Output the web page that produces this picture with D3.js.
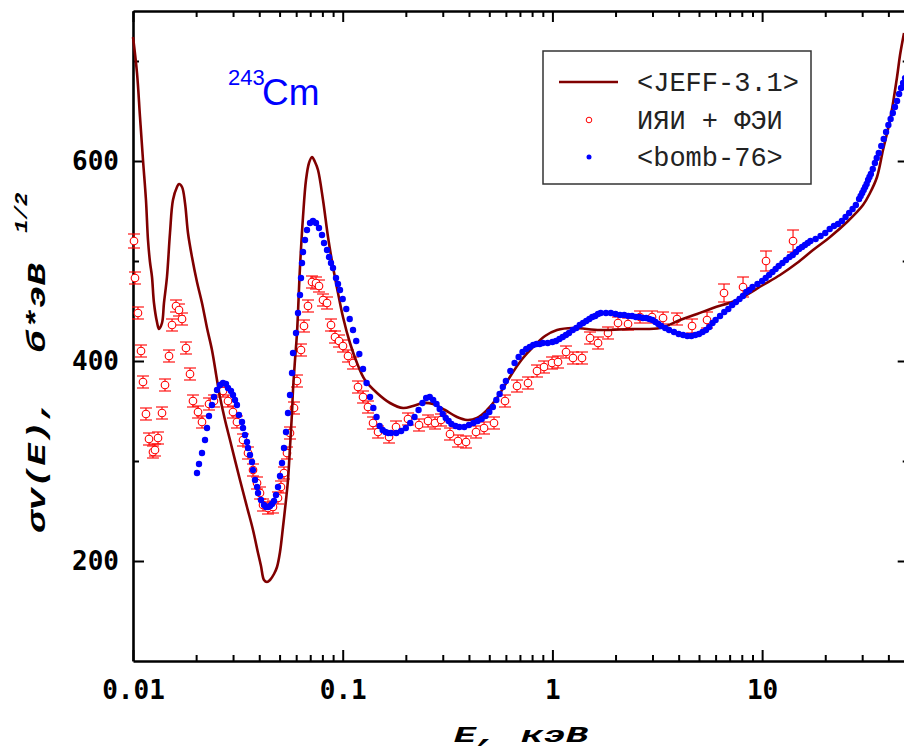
<!DOCTYPE html>
<html>
<head>
<meta charset="utf-8">
<script src="https://cdn.jsdelivr.net/npm/d3@7"></script>
<style>
  body { margin: 0; background: #fff; }
  svg { display: block; }
</style>
</head>
<body>
<svg id="chart" width="904" height="749"></svg>
<script>
// ---- Evaluated cross section (JEFF-3.1), energy in keV ----
const jeffEnergy = [0.0100,0.01045,0.01080,0.01116,0.01153,0.01179,0.01205,0.01232,0.01259,0.01301,
  0.01330,0.01375,0.01405,0.01452,0.01501,0.01551,0.01621,0.01657,0.01713,0.01770,
  0.01829,0.01911,0.02019,0.02133,0.02254,0.02380,0.02515,0.02599,0.02746,0.02901,
  0.03237,0.03496,0.03735,0.03946,0.04077,0.04214,0.04355,0.04501,0.04703,0.04861,
  0.05023,0.05191,0.05365,0.05484,0.05606,0.05730,0.05794,0.05923,0.06054,0.06257,
  0.06466,0.06683,0.06907,0.07138,0.07377,0.07624,0.08055,0.08510,0.08990,0.09497,
  0.1003,0.1083,0.1170,0.1277,0.1458,0.1681,0.1940,0.2164,0.2415,0.2695,
  0.3075,0.3509,0.3916,0.4369,0.4876,0.5441,0.5942,0.6488,0.7240,0.8080,
  0.9220,1.0518,1.2535,1.6866,2.3446,3.2601,4.0595,4.8938,5.8325,7.5914,
  10.099,12.174,14.674,17.490,21.082,25.402,30.272,32.693,35.309,37.710,
  40.731,43.991,45.465,47.508];
const jeffSigma = [724,688,644,601,561,521,499,484,458,439,
  432,438,458,484,528,561,574,577,574,558,
  528,504,479,458,433,411,381,364,341,321,
  281,254,231,208,195,181,179,181,187,194,
  209,234,261,281,314,348,371,401,428,494,
  544,581,598,604,599,591,561,524,494,468,
  444,418,398,381,368,358,353,355,358,357,
  351,344,341,343,351,363,376,389,403,414,
  425,431,433,431,432,433,441,447,453,461,
  476,486,498,511,524,539,556,568,584,611,
  641,684,706,728];

// ---- Measurements (ИЯИ + ФЭИ) with uncertainties ----
const expEnergy = [0.01011,0.01022,0.01056,0.01092,0.01116,0.01153,0.01192,0.01245,0.01273,0.01316,
  0.01375,0.01421,0.01485,0.01535,0.01604,0.01657,0.01713,0.01789,0.01870,0.01932,
  0.02042,0.02133,0.02304,0.02433,0.02686,0.02838,0.02998,0.03131,0.03346,0.03535,
  0.03735,0.03903,0.04033,0.04169,0.04403,0.04651,0.04914,0.05079,0.05248,0.05424,
  0.05606,0.05858,0.06054,0.06326,0.06537,0.06831,0.07138,0.07459,0.07708,0.08055,
  0.08417,0.08795,0.09190,0.09602,0.1003,0.1060,0.1120,0.1183,0.1250,0.1320,
  0.1395,0.1474,0.1663,0.1796,0.2048,0.2311,0.2552,0.2755,0.2943,0.3248,
  0.3547,0.3873,0.4321,0.4720,0.5266,0.5942,0.6779,0.7648,0.8445,0.9120,
  0.9956,1.0634,1.1614,1.2535,1.3839,1.5112,1.6503,1.8413,2.0551,2.2937,
  2.6166,2.9853,3.3692,3.9281,4.6326,5.4614,6.5811,8.1088,10.437,14.042];
const expSigma = [520,483,448,410,379,347,322,309,311,323,
  348,376,405,436,455,451,442,413,387,360,
  349,339,357,360,370,360,349,339,321,308,
  291,278,268,256,253,254,263,274,288,308,
  328,353,380,411,435,455,479,478,475,461,
  458,436,424,420,415,405,398,374,364,354,
  338,329,324,334,342,336,340,338,341,327,
  320,319,329,333,338,360,375,378,390,394,
  398,399,409,403,403,423,418,428,438,437,
  444,444,443,442,435,441,468,474,500,520];
const expError = [7,6,6,6,6,6,6,6,6,6,
  6,6,6,6,6,6,6,6,6,6,
  6,6,6,6,6,6,6,6,6,6,
  6,6,6,6,6,6,6,6,6,6,
  6,6,6,6,6,6,6,6,6,6,
  6,6,6,6,6,6,6,6,6,6,
  6,6,6,6,6,6,6,6,6,6,
  6,6,6,6,6,6,6,6,6,6,
  6,6,6,6,6,6,6,6,6,6,
  6,6,6,6,7,8,9,10,10,11];

// ---- Calculated cross section (bomb-76) ----
const bombEnergy = [0.02019,0.02064,0.02133,0.02205,0.02254,0.02304,0.02380,0.02433,0.02515,0.02599,
  0.02686,0.02776,0.02838,0.02933,0.02998,0.03065,0.03131,0.03201,0.03310,0.03346,
  0.03420,0.03496,0.03535,0.03614,0.03694,0.03735,0.03818,0.03903,0.03946,0.04077,
  0.04214,0.04307,0.04403,0.04501,0.04600,0.04703,0.04807,0.04914,0.05023,0.05135,
  0.05248,0.05365,0.05484,0.05606,0.05730,0.05794,0.05988,0.06121,0.06257,0.06326,
  0.06396,0.06466,0.06609,0.06756,0.06983,0.07215,0.07459,0.07708,0.07967,0.08144,
  0.08417,0.08604,0.08795,0.08990,0.09291,0.09497,0.09708,
  0.100,0.104,0.108,0.112,0.116,0.120,0.125,0.130,0.135,0.140,
  0.145,0.150,0.155,0.160,0.165,0.170,0.180,0.190,0.200,0.210,
  0.220,0.230,0.240,0.250,0.260,0.270,0.280,0.290,0.300,0.310,
  0.320,0.330,0.345,0.360,0.380,0.400,0.420,0.440,0.460,0.480,
  0.500,0.520,0.540,0.560,0.580,0.600,0.630,0.660,0.690,0.720,
  0.750,0.780,0.810,0.840,0.870,0.900,0.950,
  1.00,1.04,1.08,1.12,1.16,1.20,1.25,1.30,1.35,1.40,
  1.45,1.50,1.55,1.60,1.65,1.70,1.80,1.90,2.00,2.10,
  2.20,2.30,2.40,2.50,2.60,2.70,2.80,2.90,3.00,3.10,
  3.20,3.30,3.45,3.60,3.80,4.00,4.20,4.40,4.60,4.80,
  5.00,5.20,5.40,5.60,5.80,6.00,6.30,6.60,6.90,7.20,
  7.50,7.80,8.10,8.40,8.70,9.00,9.50,
  10.0,10.4,10.8,11.2,11.6,12.0,12.5,13.0,13.5,14.0,
  14.5,15.0,15.5,16.0,16.5,17.0,18.0,19.0,20.0,21.0,
  22.0,23.0,24.0,25.0,26.0,27.0,28.0,29.0,29.5,30.0,
  30.5,31.0,31.5,32.0,32.5,33.0,33.7,34.5,35.2,36.0,
  37.0,38.0,39.0,40.0,41.0,42.0,43.0,44.0,45.0,46.0,
  47.0,48.0];
const bombSigma = [288,297,308,321,333,345,356,364,371,376,
  378,377,373,370,366,361,356,346,339,333,
  326,319,313,306,299,291,281,274,268,261,
  256,254,254,255,257,260,266,274,285,298,
  313,329,348,366,388,408,428,448,466,483,
  498,509,521,531,538,540,538,533,526,518,
  511,504,498,493,483,477,471,
  462,452,442,431,420,407,392,378,364,353,
  344,335,331,329,328,328,328,330,333,338,
  344,351,358,363,364,361,357,352,347,343,
  340,337,335,334,334,336,338,340,342,345,
  349,354,361,367,374,380,390,398,404,409,
  412,414,416,417,417,418,418,
  419,420,422,424,426,428,431,433,436,438,
  440,442,444,445,447,448,448,448,447,446,
  446,445,445,444,444,443,443,442,441,439,
  437,435,433,431,429,427,426,425,425,426,
  427,429,431,434,438,441,445,449,452,456,
  459,462,465,469,471,474,477,
  480,483,486,489,492,495,498,501,504,506,
  509,512,514,516,518,520,522,525,528,532,
  535,537,540,544,548,552,556,562,565,568,
  571,574,577,581,584,587,592,598,603,608,
  615,622,629,636,642,648,654,660,667,673,
  678,683];

// ---- Axis ticks and labels ----
const xMajorTicks = [0.01, 0.1, 1, 10];
const xTickLabels = ["0.01", "0.1", "1", "10"];
const xMinorTicks = [0.02,0.03,0.04,0.05,0.06,0.07,0.08,0.09,
  0.2,0.3,0.4,0.5,0.6,0.7,0.8,0.9,
  2,3,4,5,6,7,8,9,
  20,30,40];
const yMajorTicks = [200, 400, 600];
const yMinorTicks = [300, 500, 700];

const legendLabels = ["<JEFF-3.1>", "ИЯИ + ФЭИ", "<bomb-76>"];

const COLOR_JEFF = "#800000";
const COLOR_EXP = "#ff0000";
const COLOR_BOMB = "#0000ff";

const svg = d3.select("#chart");

const x = d3.scaleLog().domain([0.01, 50]).range([133, 908.7]);
const y = d3.scaleLinear().domain([100, 750]).range([661, 11]);

const X0 = x.range()[0], X1 = x.range()[1];
const Y0 = y.range()[0], Y1 = y.range()[1];

// ---- Axes (ticks point inward on all four sides) ----
function styleAxis(g, width) {
  g.select(".domain").attr("stroke", "#000").attr("stroke-width", width);
  g.selectAll(".tick line").attr("stroke", "#000").attr("stroke-width", 2);
}
function minorStyle(g) {
  g.select(".domain").remove();
  g.selectAll(".tick line").attr("stroke", "#000").attr("stroke-width", 2);
}

const tickFont = "'DejaVu Sans Mono', monospace";

const gBottom = svg.append("g").attr("transform", `translate(0,${Y0})`)
  .call(d3.axisBottom(x).tickValues(xMajorTicks)
    .tickFormat((d, i) => xTickLabels[i])
    .tickSizeInner(-11).tickSizeOuter(0).tickPadding(20));
styleAxis(gBottom, 2.6);
gBottom.selectAll(".tick text")
  .attr("font-family", tickFont).attr("font-weight", "bold")
  .attr("font-size", 26).attr("fill", "#000");
svg.append("g").attr("transform", `translate(0,${Y0})`)
  .call(d3.axisBottom(x).tickValues(xMinorTicks).tickFormat("")
    .tickSizeInner(-6).tickSizeOuter(0))
  .call(minorStyle);

const gTop = svg.append("g").attr("transform", `translate(0,${Y1})`)
  .call(d3.axisTop(x).tickValues(xMajorTicks).tickFormat("")
    .tickSizeInner(-11).tickSizeOuter(0));
styleAxis(gTop, 2.6);
svg.append("g").attr("transform", `translate(0,${Y1})`)
  .call(d3.axisTop(x).tickValues(xMinorTicks).tickFormat("")
    .tickSizeInner(-6).tickSizeOuter(0))
  .call(minorStyle);

const gLeft = svg.append("g").attr("transform", `translate(${X0},0)`)
  .call(d3.axisLeft(y).tickValues(yMajorTicks)
    .tickSizeInner(-11).tickSizeOuter(0).tickPadding(14));
styleAxis(gLeft, 2.6);
gLeft.selectAll(".tick text")
  .attr("font-family", tickFont).attr("font-weight", "bold")
  .attr("font-size", 26).attr("fill", "#000");
svg.append("g").attr("transform", `translate(${X0},0)`)
  .call(d3.axisLeft(y).tickValues(yMinorTicks).tickFormat("")
    .tickSizeInner(-6).tickSizeOuter(0))
  .call(minorStyle);

const gRight = svg.append("g").attr("transform", `translate(${X1},0)`)
  .call(d3.axisRight(y).tickValues(yMajorTicks).tickFormat("")
    .tickSizeInner(-11).tickSizeOuter(0));
styleAxis(gRight, 2.6);
svg.append("g").attr("transform", `translate(${X1},0)`)
  .call(d3.axisRight(y).tickValues(yMinorTicks).tickFormat("")
    .tickSizeInner(-6).tickSizeOuter(0))
  .call(minorStyle);

// ---- Measurements: error bars + open circles ----
const expData = expEnergy.map((e, i) => ({ e, s: expSigma[i], err: expError[i] }));
const gExp = svg.append("g");
const bars = gExp.selectAll("g.bar").data(expData).join("g").attr("class", "bar")
  .attr("stroke", COLOR_EXP).attr("stroke-width", 1.1);
bars.append("line")
  .attr("x1", d => x(d.e)).attr("x2", d => x(d.e))
  .attr("y1", d => y(d.s + d.err)).attr("y2", d => y(d.s - d.err));
bars.append("line")
  .attr("x1", d => x(d.e) - 6).attr("x2", d => x(d.e) + 6)
  .attr("y1", d => y(d.s + d.err)).attr("y2", d => y(d.s + d.err));
bars.append("line")
  .attr("x1", d => x(d.e) - 6).attr("x2", d => x(d.e) + 6)
  .attr("y1", d => y(d.s - d.err)).attr("y2", d => y(d.s - d.err));
gExp.selectAll("circle").data(expData).join("circle")
  .attr("cx", d => x(d.e)).attr("cy", d => y(d.s)).attr("r", 3.8)
  .attr("fill", "#fff").attr("stroke", COLOR_EXP).attr("stroke-width", 1.1);

// ---- JEFF-3.1 curve ----
const jeffData = jeffEnergy.map((e, i) => [e, jeffSigma[i]]);
svg.append("path")
  .datum(jeffData)
  .attr("fill", "none").attr("stroke", COLOR_JEFF).attr("stroke-width", 2.6)
  .attr("stroke-linejoin", "round")
  .attr("d", d3.line().x(d => x(d[0])).y(d => y(d[1])).curve(d3.curveCatmullRom.alpha(0.5)));

// ---- bomb-76 points ----
const bombData = bombEnergy.map((e, i) => [e, bombSigma[i]]);
svg.append("g").selectAll("circle").data(bombData).join("circle")
  .attr("cx", d => x(d[0])).attr("cy", d => y(d[1])).attr("r", 3.2)
  .attr("fill", COLOR_BOMB);

// ---- Nuclide label ----
const nuclide = svg.append("g").attr("fill", COLOR_BOMB)
  .attr("font-family", "'Liberation Sans', Arial, sans-serif");
nuclide.append("text").attr("x", 228).attr("y", 85).attr("font-size", 22).text("243");
nuclide.append("text").attr("x", 262).attr("y", 105).attr("font-size", 37).text("Cm");

// ---- Legend ----
const legend = svg.append("g");
legend.append("rect").attr("x", 543).attr("y", 51).attr("width", 268).attr("height", 133)
  .attr("fill", "#fff").attr("stroke", "#333").attr("stroke-width", 1.5);
const rowY = [82, 120, 157];
legend.append("line").attr("x1", 559).attr("x2", 618).attr("y1", rowY[0]).attr("y2", rowY[0])
  .attr("stroke", COLOR_JEFF).attr("stroke-width", 2.6);
legend.append("circle").attr("cx", 589).attr("cy", rowY[1]).attr("r", 2.8)
  .attr("fill", "#fff").attr("stroke", COLOR_EXP).attr("stroke-width", 1);
legend.append("circle").attr("cx", 589).attr("cy", rowY[2]).attr("r", 2.5)
  .attr("fill", COLOR_BOMB);
legend.selectAll("text.lbl").data(legendLabels).join("text").attr("class", "lbl")
  .attr("x", 637).attr("y", (d, i) => rowY[i] + 9)
  .attr("font-family", "'Liberation Mono', 'Courier New', monospace")
  .attr("font-size", 27).attr("fill", "#222")
  .text(d => d);

// ---- Axis titles ----
const titleFont = "'Liberation Mono', 'Courier New', monospace";
svg.append("text")
  .attr("transform", "translate(45,533) rotate(-90) scale(1.5,1)")
  .attr("font-family", titleFont).attr("font-weight", "bold").attr("font-style", "italic")
  .attr("font-size", 25).attr("fill", "#000")
  .style("white-space", "pre")
  .text("σv(E),  б*эВ");
svg.append("text")
  .attr("transform", "translate(27,233) rotate(-90) scale(1.25,1)")
  .attr("font-family", titleFont).attr("font-weight", "bold").attr("font-style", "italic")
  .attr("font-size", 18).attr("fill", "#000")
  .text("1/2");
svg.append("text")
  .attr("transform", "translate(521,742) scale(1.7,1)")
  .attr("text-anchor", "middle")
  .attr("font-family", titleFont).attr("font-weight", "bold").attr("font-style", "italic")
  .attr("font-size", 22).attr("fill", "#000")
  .style("white-space", "pre")
  .text("E, кэВ");
</script>
</body>
</html>
